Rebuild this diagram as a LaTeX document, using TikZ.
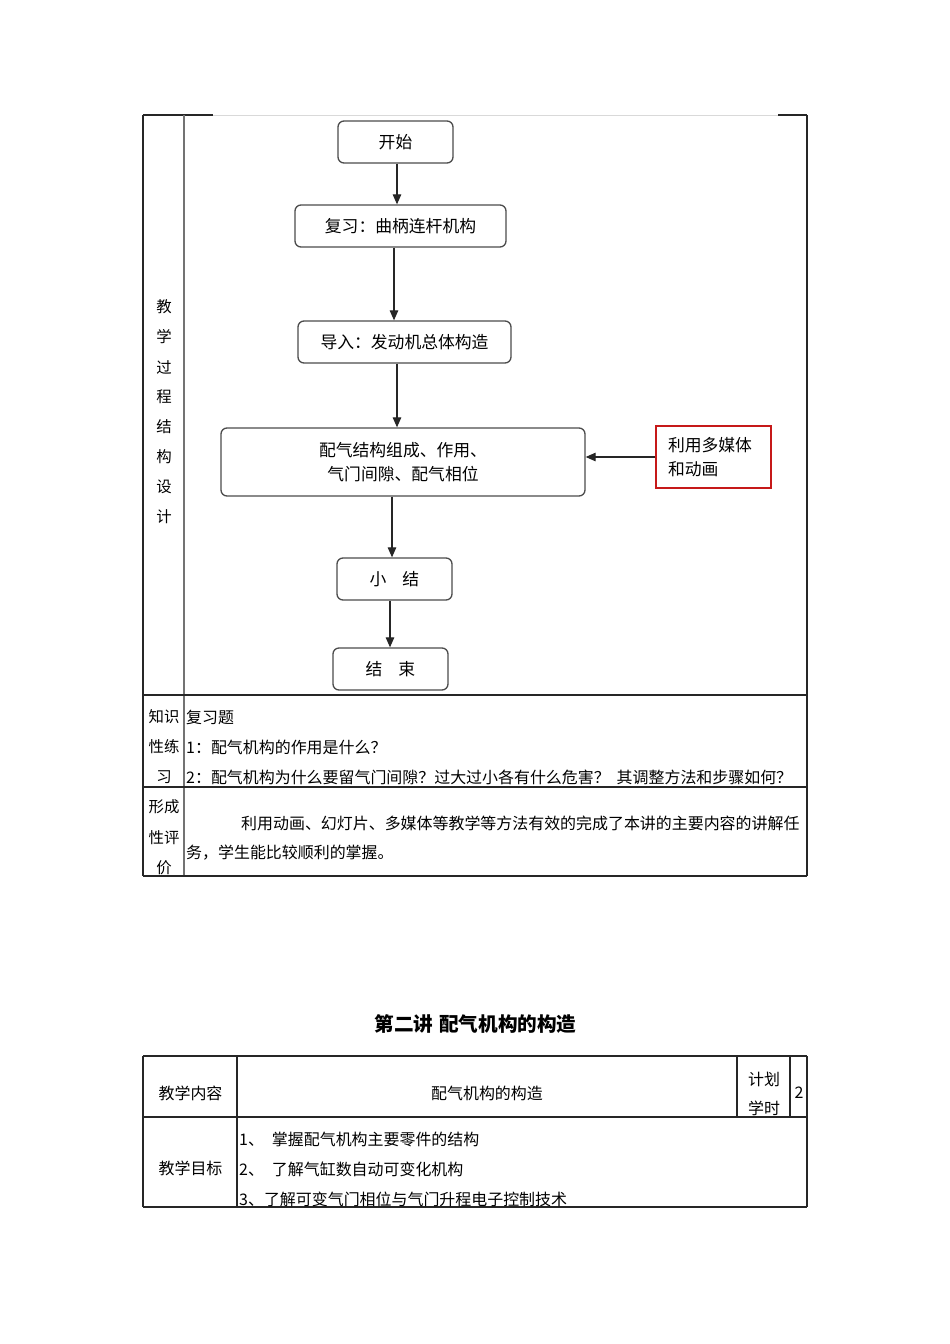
\documentclass[tikz,border=0pt]{standalone}
\usepackage{fontspec}
\setmainfont{Noto Sans CJK SC}
\usetikzlibrary{arrows.meta}
\begin{document}
\begin{tikzpicture}[x=1pt,y=-1pt,
  tline/.style={draw=black!85,line width=1.1pt},
  fbox/.style={draw=black!70,line width=1.3pt,rounded corners=6pt,inner sep=0pt,
    font=\fontsize{16.8}{24}\selectfont},
  mbox/.style={draw=red!75!black!90,line width=1.1pt,inner sep=0pt,
    font=\fontsize{16.8}{24}\selectfont},
  arr/.style={draw=black!85,line width=1.1pt,-{Triangle[length=10pt,width=8.5pt]}},
  ttext/.style={font=\fontsize{15.95}{15.95}\selectfont,inner sep=0pt},
  lbl/.style={font=\fontsize{15.4}{15.4}\selectfont,inner sep=0pt}
]
\useasboundingbox (0,0) rectangle (950,1344);
\fill[white] (0,0) rectangle (950,1344);

% ---------- table 1 ----------
\draw[tline] (143,115) -- (143,876);
\draw[tline] (807,115) -- (807,876);
\draw[tline] (143,115) -- (213,115);
\draw[tline] (778,115) -- (807,115);
\draw[draw=black!15,line width=1pt] (213,115) -- (778,115);
\draw[draw=black!55,line width=1.3pt] (184,115) -- (184,876);
\draw[tline] (143,695) -- (807,695);
\draw[tline] (143,787) -- (807,787);
\draw[tline] (143,876) -- (807,876);

% left column labels
\foreach \c [count=\i from 0] in {教,学,过,程,结,构,设,计}
  \node[lbl] (v\i) at (164,307+30*\i) {\c};
\node[lbl] (k1) at (164,717) {知识};
\node[lbl] (k2) at (164,747) {性练};
\node[lbl] (k3) at (164,777) {习};
\node[lbl] (p1) at (164,807) {形成};
\node[lbl] (p2) at (164,838) {性评};
\node[lbl] (p3) at (164,868) {价};

% row 2 content
\node[ttext,anchor=west] (q0) at (186,717) {复习题};
\node[ttext,anchor=west] (q1) at (186,747) {1：配气机构的作用是什么？};
\node[ttext,anchor=west] (q2) at (186,777) {2：配气机构为什么要留气门间隙？过大过小各有什么危害？\hspace{7pt}其调整方法和步骤如何？};
% row 3 content
\node[ttext,anchor=west] (e1) at (241,823) {利用动画、幻灯片、多媒体等教学等方法有效的完成了本讲的主要内容的讲解任};
\node[ttext,anchor=west] (e2) at (186,853) {务，学生能比较顺利的掌握。};

% ---------- flowchart ----------
\node[fbox,minimum width=115pt,minimum height=42pt] (start) at (395.5,142) {开始};
\node[fbox,minimum width=211pt,minimum height=42pt] (rev) at (400.5,226) {复习：曲柄连杆机构};
\node[fbox,minimum width=213pt,minimum height=42pt] (intro) at (404.5,342) {导入：发动机总体构造};
\node[fbox,minimum width=364pt,minimum height=68pt,align=center] (main) at (403,462)
  {配气结构组成、作用、\\气门间隙、配气相位};
\node[mbox,minimum width=115pt,minimum height=62pt,text width=91pt,inner xsep=12pt,align=left] (media) at (713.5,457)
  {利用多媒体\\和动画};
\node[fbox,minimum width=115pt,minimum height=42pt] (sum) at (394.5,579) {小\hspace{16pt}结};
\node[fbox,minimum width=115pt,minimum height=42pt] (end) at (390.5,669) {结\hspace{16pt}束};

\draw[arr] ([xshift=1.5pt]start.south) -- ([xshift=1.5pt]start.south |- rev.north);
\draw[arr] ([xshift=-6.5pt]rev.south) -- ([xshift=-6.5pt]rev.south |- intro.north);
\draw[arr] ([xshift=-7.5pt]intro.south) -- ([xshift=-7.5pt]intro.south |- main.north);
\draw[arr] ([xshift=-11pt]main.south) -- ([xshift=-11pt]main.south |- sum.north);
\draw[arr] ([xshift=-4.5pt]sum.south) -- ([xshift=-4.5pt]sum.south |- end.north);
\draw[arr] (media.west) -- (media.west -| main.east);

% ---------- title ----------
\node[font=\fontsize{19.6}{19.6}\selectfont\bfseries,inner sep=0pt] (title) at (475.5,1024) {第二讲\hspace{6pt}配气机构的构造};

% ---------- table 2 ----------
\draw[tline,line width=1.3pt] (143,1056) -- (807,1056);
\draw[tline] (143,1056) -- (143,1207);
\draw[tline] (807,1056) -- (807,1207);
\draw[tline] (143,1207) -- (807,1207);
\draw[tline] (143,1117) -- (807,1117);
\draw[tline] (237,1056) -- (237,1207);
\draw[tline] (737,1056) -- (737,1117);
\draw[tline] (790,1056) -- (790,1117);

\node[ttext] (c1) at (190.5,1093) {教学内容};
\node[ttext] (c2) at (487,1093) {配气机构的构造};
\node[ttext] (c3) at (764,1079) {计划};
\node[ttext] (c4) at (764,1108) {学时};
\node[ttext] (c5) at (799,1093) {2};
\node[ttext] (g0) at (190.5,1168) {教学目标};
\node[ttext,anchor=west] (g1) at (239,1139) {1、\hspace{8pt}掌握配气机构主要零件的结构};
\node[ttext,anchor=west] (g2) at (239,1169) {2、\hspace{8pt}了解气缸数自动可变化机构};
\node[ttext,anchor=west] (g3) at (239,1199) {3、了解可变气门相位与气门升程电子控制技术};
\end{tikzpicture}
\end{document}
